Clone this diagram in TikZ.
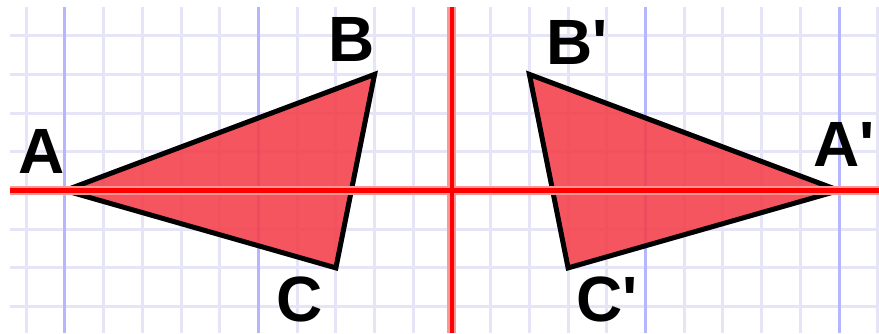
\documentclass[tikz,border=0pt]{standalone}
\usepackage{fontspec}
\setmainfont{Liberation Sans}
\definecolor{gridlight}{RGB}{229,229,247}
\definecolor{gridblue}{RGB}{182,182,255}
\definecolor{axisred}{RGB}{255,0,0}
\definecolor{axispink}{RGB}{255,150,150}
\definecolor{trifill}{RGB}{244,62,72}
\tikzset{
  lightline/.style={gridlight, line width=3pt},
  blueline/.style={gridblue, line width=3pt},
  tri/.style={fill=trifill, fill opacity=0.88, draw=black, line width=5pt, miter limit=3},
  axishalo/.style={axispink, line width=9pt},
  axiscore/.style={axisred, line width=4.5pt},
  lbl/.style={inner sep=0pt, font=\fontsize{64}{64}\selectfont\bfseries}
}
\begin{document}
\begin{tikzpicture}[x=1pt,y=1pt]
\def\u{38.7}
\useasboundingbox (-452,-142.5) rectangle (427,190.5);
% grid
\foreach \m in {-11,...,11} {\draw[lightline] (\m*\u,-142.5) -- (\m*\u,183.8);}
\foreach \n in {-3,...,4} {\draw[lightline] (-442,\n*\u) -- (427,\n*\u);}
\foreach \m in {-10,-5,5,10} {\draw[blueline] (\m*\u,-142.5) -- (\m*\u,183.8);}
% points
\coordinate (A) at (-10*\u,0);
\coordinate (B) at (-2*\u,3*\u);
\coordinate (C) at (-3*\u,-2*\u);
\coordinate (A') at (10*\u,0);
\coordinate (B') at (2*\u,3*\u);
\coordinate (C') at (3*\u,-2*\u);
% triangles
\draw[tri] (A) -- (B) -- (C) -- cycle;
\draw[tri] (A') -- (B') -- (C') -- cycle;
% axes
\coordinate (xl) at (-442,0);
\coordinate (xr) at (427,0);
\coordinate (yb) at (0,-142.5);
\coordinate (yt) at (0,183.8);
\draw[axishalo] (xl) -- (xr);
\draw[axishalo] (yb) -- (yt);
\draw[axiscore] (xl) -- (xr);
\draw[axiscore] (yb) -- (yt);
% labels
\node[lbl] (lA) at (-410.5,39.5) {A};
\node[lbl] (lB) at (-100,151.5) {B};
\node[lbl] (lC) at (-152,-108.5) {C};
\node[lbl] (lA2) at (392,46.5) {A\textquotesingle};
\node[lbl] (lB2) at (125,148.5) {B\textquotesingle};
\node[lbl] (lC2) at (155,-108.5) {C\textquotesingle};
\end{tikzpicture}
\end{document}
